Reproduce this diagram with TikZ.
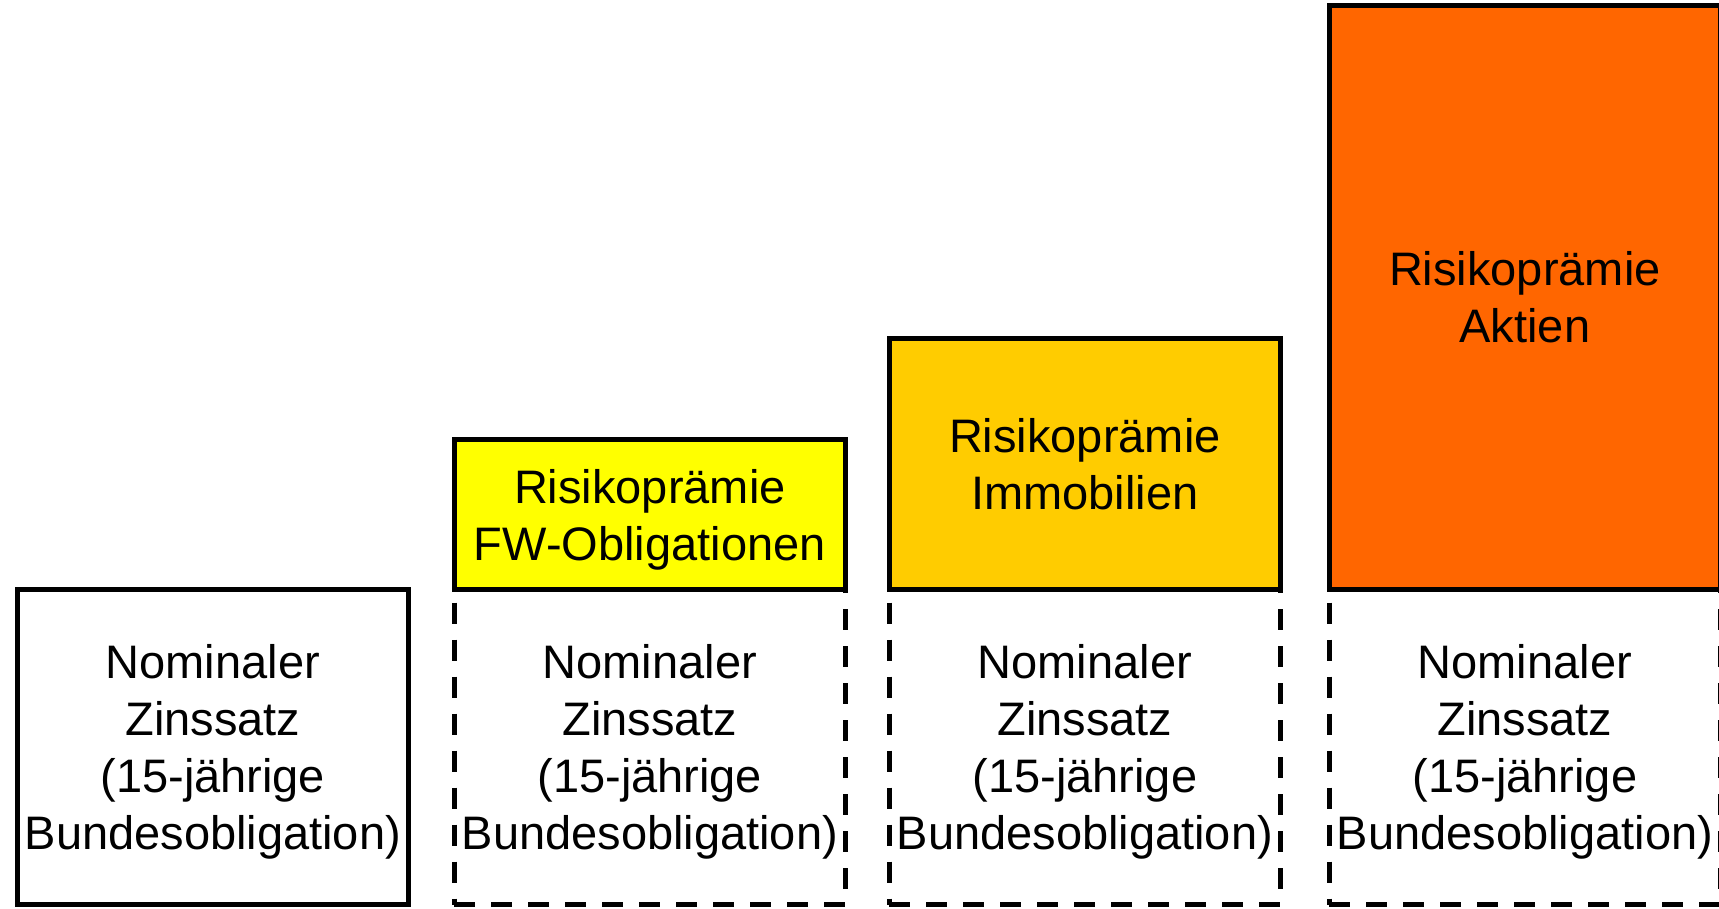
\documentclass[tikz,border=0pt]{standalone}
\usepackage{fontspec}
\setmainfont{Liberation Sans}
\definecolor{fwyellow}{HTML}{FFFF00}
\definecolor{immo}{HTML}{FFCC00}
\definecolor{aktien}{HTML}{FF6600}
\newcommand{\nodepthline}[1]{\raisebox{0pt}[\height][0pt]{#1}}
\begin{document}
\begin{tikzpicture}[x=1pt,y=1pt,
  base/.style={draw=black, line width=4.7pt, inner sep=0pt, align=center,
    minimum width=391pt, anchor=south west,
    font=\fontsize{47}{57}\selectfont},
  solidbox/.style={base, minimum height=315pt, fill=white},
  dashbox/.style={base, minimum height=315pt, dash pattern=on 21pt off 16pt},
  premium/.style={base, minimum height=#1}]
\useasboundingbox (0,0) rectangle (1719,909);
\node[solidbox] (n1) at (15,2) {Nominaler\\Zinssatz\\(15-jährige\\\nodepthline{Bundesobligation)}};
\node[dashbox] (n2) at (452,2) {Nominaler\\Zinssatz\\(15-jährige\\\nodepthline{Bundesobligation)}};
\node[dashbox] (n3) at (887,2) {Nominaler\\Zinssatz\\(15-jährige\\\nodepthline{Bundesobligation)}};
\node[dashbox] (n4) at (1327,2) {Nominaler\\Zinssatz\\(15-jährige\\\nodepthline{Bundesobligation)}};
\node[premium=150pt, fill=fwyellow] (p2) at (452,317) {Risikoprämie\\\nodepthline{FW-Obligationen}};
\node[premium=251pt, fill=immo] (p3) at (887,317) {Risikoprämie\\Immobilien};
\node[premium=584pt, fill=aktien] (p4) at (1327,317) {Risikoprämie\\Aktien};
\end{tikzpicture}
\end{document}
